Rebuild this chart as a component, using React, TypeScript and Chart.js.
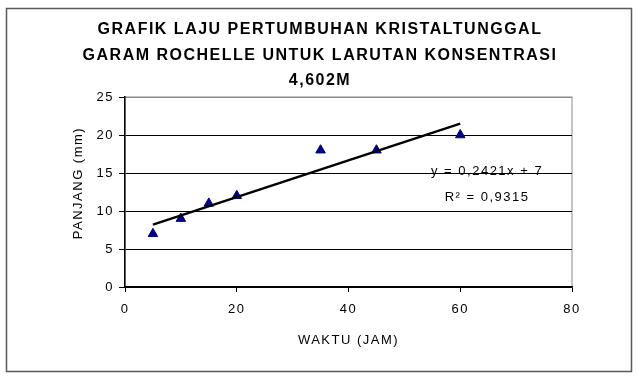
import React, { useEffect, useRef } from 'react';
import { Chart, registerables } from 'chart.js';

Chart.register(...registerables);

const titleLines = [
  'GRAFIK LAJU PERTUMBUHAN KRISTALTUNGGAL',
  'GARAM ROCHELLE UNTUK LARUTAN KONSENTRASI',
  '4,602M',
];
const xAxisTitle = 'WAKTU (JAM)';
const yAxisTitle = 'PANJANG (mm)';

const waktu = [5, 10, 15, 20, 35, 45, 60];
const panjang = [7, 9, 11, 12, 18, 18, 20];

const trendX = [5, 60];
const trendY = [8.2, 21.5];

const xMin = 0;
const xMax = 80;
const xStep = 20;
const yMin = 0;
const yMax = 25;
const yStep = 5;

const equationText = 'y = 0,2421x + 7';
const r2Text = 'R\u00B2 = 0,9315';

const FONT = '"Liberation Sans", Arial, sans-serif';

export default function App() {
  const ref = useRef<HTMLCanvasElement | null>(null);

  useEffect(() => {
    const canvas = ref.current;
    if (!canvas) return;

    const framePlugin = {
      id: 'frame',
      beforeLayout(chart: any) {
        chart.ctx.letterSpacing = '1.5px';
      },
      beforeDraw(chart: any) {
        const { ctx, width, height, chartArea } = chart;
        ctx.save();
        ctx.fillStyle = '#ffffff';
        ctx.fillRect(0, 0, width, height);
        ctx.strokeStyle = '#5a5a5a';
        ctx.lineWidth = 1.5;
        ctx.strokeRect(6.5, 8.5, width - 13, height - 13);
        ctx.strokeStyle = '#8a8a8a';
        ctx.lineWidth = 1;
        ctx.strokeRect(chartArea.left, chartArea.top, chartArea.right - chartArea.left, chartArea.bottom - chartArea.top);
        ctx.restore();
        ctx.letterSpacing = '1.5px';
      },
      afterDraw(chart: any) {
        const { ctx, scales, chartArea } = chart;
        ctx.save();
        ctx.letterSpacing = '1.5px';
        ctx.fillStyle = '#000000';
        ctx.font = `13px ${FONT}`;
        ctx.textAlign = 'center';
        ctx.textBaseline = 'middle';
        const ex = scales.x.getPixelForValue(64.8);
        ctx.fillText(equationText, ex, scales.y.getPixelForValue(15.26));
        ctx.fillText(r2Text, ex, scales.y.getPixelForValue(11.84));
        // y-axis title
        ctx.translate(chartArea.left - 47, (chartArea.top + chartArea.bottom) / 2 - 9);
        ctx.rotate(-Math.PI / 2);
        ctx.fillText(yAxisTitle, 0, 0);
        ctx.restore();
      },
    };

    const chart = new Chart(canvas, {
      type: 'scatter',
      data: {
        datasets: [
          {
            type: 'line',
            label: 'Linear',
            data: trendX.map((x, i) => ({ x, y: trendY[i] })),
            borderColor: '#000000',
            borderWidth: 2.5,
            pointRadius: 0,
            showLine: true,
            fill: false,
          },
          {
            label: 'Panjang',
            data: waktu.map((x, i) => ({ x, y: panjang[i] })),
            pointStyle: 'triangle',
            pointRadius: 5.5,
            backgroundColor: '#000080',
            borderColor: '#000080',
            borderWidth: 1,
          },
        ],
      },
      options: {
        responsive: false,
        animation: false,
        events: [],
        layout: { padding: { left: 68, right: 66, top: 0, bottom: 0 } },
        plugins: {
          legend: { display: false },
          tooltip: { enabled: false },
          title: {
            display: true,
            text: titleLines,
            color: '#000000',
            font: { family: FONT, size: 16, weight: 'bold', lineHeight: 1.59375 },
            padding: { top: 17.25, bottom: 3.25 },
          },
        },
        scales: {
          x: {
            type: 'linear',
            min: xMin,
            max: xMax,
            afterFit(scale: any) {
              scale.height = 89;
            },
            ticks: {
              stepSize: xStep,
              color: '#000000',
              padding: 10,
              maxRotation: 0,
              font: { family: FONT, size: 13 },
            },
            grid: {
              drawOnChartArea: false,
              drawTicks: true,
              tickLength: 5,
              tickColor: '#000000',
            },
            border: { color: '#000000', width: 1.5 },
            title: {
              display: true,
              text: xAxisTitle,
              color: '#000000',
              font: { family: FONT, size: 13, lineHeight: 1.2 },
              padding: { top: 0, bottom: 28.2 },
            },
          },
          y: {
            type: 'linear',
            min: yMin,
            max: yMax,
            afterFit(scale: any) {
              scale.width = 57;
            },
            ticks: {
              stepSize: yStep,
              color: '#000000',
              padding: 5,
              font: { family: FONT, size: 13 },
            },
            grid: {
              color: (c: any) => (c.tick && c.tick.value === yMax ? '#8a8a8a' : '#000000'),
              lineWidth: 1,
              drawTicks: true,
              tickLength: 6,
              tickColor: '#000000',
            },
            border: { color: '#000000', width: 1.5 },
            title: { display: false },
          },
        },
      },
      plugins: [framePlugin],
    } as any);

    return () => chart.destroy();
  }, []);

  return (
    <div style={{ position: 'fixed', left: 0, top: 0, width: 638, height: 376, background: '#fff' }}>
      <canvas ref={ref} width={638} height={376} style={{ width: 638, height: 376, display: 'block' }} />
    </div>
  );
}
